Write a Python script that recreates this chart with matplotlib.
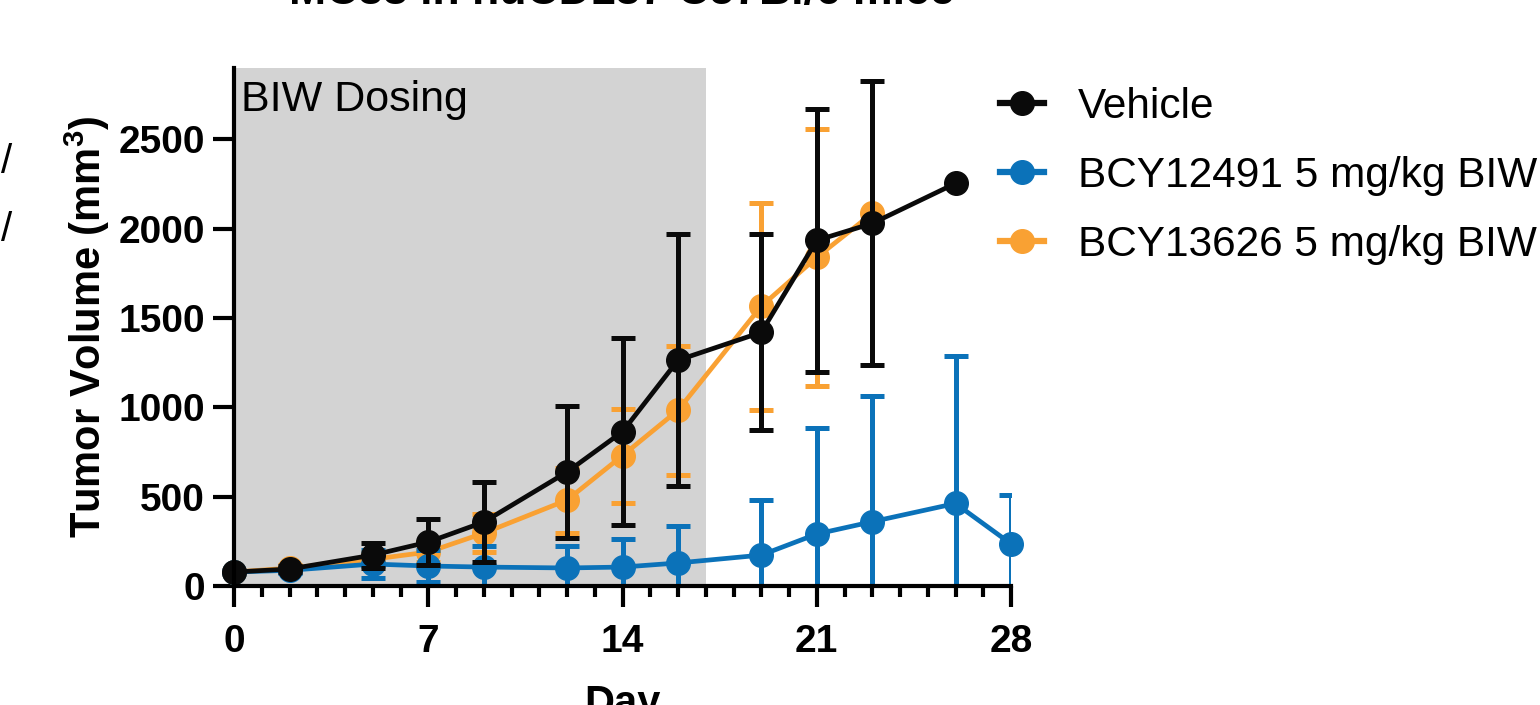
"""
Tumor growth curves (mean +/- SD) for vehicle and two BCY compounds.
"""
import numpy as np
import matplotlib
matplotlib.use('Agg')
import matplotlib.pyplot as plt
from matplotlib.ticker import MultipleLocator

plt.rcParams['font.family'] = ['Liberation Sans', 'DejaVu Sans']
plt.rcParams['mathtext.fontset'] = 'custom'
plt.rcParams['mathtext.bf'] = 'Liberation Sans:bold'
plt.rcParams['mathtext.rm'] = 'Liberation Sans'

#******** Data **************************************
days_vehicle = [0, 2, 5, 7, 9, 12, 14, 16, 19, 21, 23, 26]
mean_vehicle = [78, 95, 173, 246, 358, 638, 864, 1264, 1420, 1935, 2030, 2254]
sd_vehicle = [np.nan, 15, 70, 130, 224, 369, 523, 705, 548, 735, 795, np.nan]

days_12491 = [0, 2, 5, 7, 9, 12, 14, 16, 19, 21, 23, 26, 28]
mean_12491 = [78, 88, 123, 112, 106, 101, 106, 129, 173, 291, 360, 462, 236]
sd_12491 = [np.nan, 15, 78, 90, 118, 125, 157, 206, 308, 593, 705, 824, 274]

days_13626 = [0, 2, 5, 7, 9, 12, 14, 16, 19, 21, 23]
mean_13626 = [78, 100, 150, 190, 296, 481, 730, 984, 1566, 1840, 2086]
sd_13626 = [np.nan, 15, 40, 55, 106, 182, 263, 360, 580, 720, np.nan]

labels = ['Vehicle', 'BCY12491 5 mg/kg BIW', 'BCY13626 5 mg/kg BIW']
colors = ['#0a0a0a', '#0b72b9', '#f9a133']
dosing_end = 17

#********* Figure *******
W, H = 1540, 705
fig = plt.figure(figsize=(W/100, H/100), dpi=100)
ax = fig.add_axes([234/W, 119/H, 777/W, 518/H])

ax.axvspan(0, dosing_end, color='#d3d3d3', lw=0, zorder=0)

series = [
    (days_13626, mean_13626, sd_13626, colors[2], labels[2]),
    (days_12491, mean_12491, sd_12491, colors[1], labels[1]),
    (days_vehicle, mean_vehicle, sd_vehicle, colors[0], labels[0]),
]
handles = {}
for i, (d, m, s, c, lab) in enumerate(series):
    ax.errorbar(d, m, yerr=s, fmt='none', ecolor=c, elinewidth=3.6,
                capsize=8.5, capthick=3.6, zorder=2 + i)
    h, = ax.plot(d, m, '-o', color=c, lw=3.4, ms=17, clip_on=False,
                 zorder=2.5 + i, label=lab)
    handles[lab] = h

ax.set_xlim(0, 28)
ax.set_ylim(0, 2900)
ax.xaxis.set_major_locator(MultipleLocator(7))
ax.xaxis.set_minor_locator(MultipleLocator(1))
ax.set_yticks([0, 500, 1000, 1500, 2000, 2500])

for side in ['top', 'right']:
    ax.spines[side].set_visible(False)
for side in ['left', 'bottom']:
    ax.spines[side].set_linewidth(3)
    ax.spines[side].set_zorder(10)
ax.tick_params(which='major', length=15, width=3, labelsize=28)
ax.tick_params(axis='x', which='minor', length=8, width=3)
ax.tick_params(axis='x', which='major', pad=12)
ax.tick_params(axis='y', which='major', pad=6)
for t in ax.get_xticklabels() + ax.get_yticklabels():
    t.set_fontweight('bold')

ax.text(0.25, 2720, 'BIW Dosing', fontsize=31, va='center', ha='left')

fig.text(87/W, 1 - 327/H, r'Tumor Volume (mm$^{\mathbf{3}}$)', rotation=90,
         fontsize=30, fontweight='bold', ha='center', va='center')
fig.text(622/W, -10/H, 'Day', fontsize=30, fontweight='bold',
         ha='center', va='baseline')
fig.text(622/W, 1 - 4/H, 'MC38 in huCD137 C57Bl/6 mice', fontsize=32,
         fontweight='bold', ha='center', va='baseline')
fig.text(12/W, 1 - 162/H, '/', fontsize=29, ha='right', va='center')
fig.text(12/W, 1 - 230/H, '/', fontsize=29, ha='right', va='center')

leg = fig.legend([handles[l] for l in labels], labels, loc='upper left',
                 bbox_to_anchor=(983/W, 1 - 70/H), frameon=False, fontsize=30.5,
                 handlelength=1.05, handletextpad=0.8, labelspacing=0.68,
                 borderaxespad=0)
for ln in leg.get_lines():
    ln.set_linewidth(4.5)

fig.savefig('out.png', dpi=100)
